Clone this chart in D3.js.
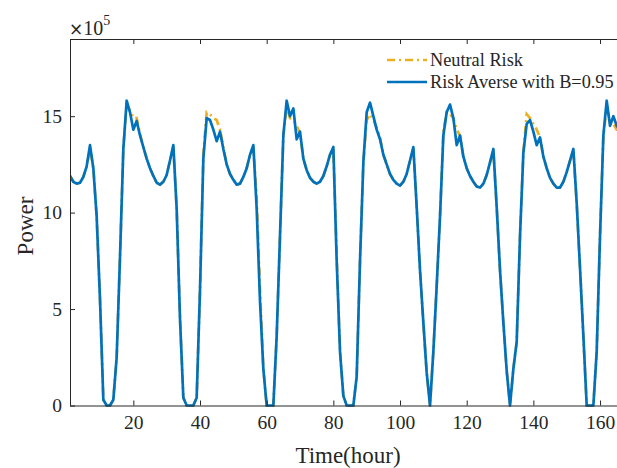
<!DOCTYPE html>
<html><head><meta charset="utf-8">
<script src="https://cdn.jsdelivr.net/npm/d3@7"></script>
<style>html,body{margin:0;padding:0;background:#fff;}svg{display:block;}</style>
</head><body>
<svg id="chart" width="617" height="468"></svg>
<script>
// hours 1..168
const hours = d3.range(1, 169);
const xTicks = [20, 40, 60, 80, 100, 120, 140, 160];
const yTicks = [0, 5, 10, 15];
const seriesNames = ["Neutral Risk", "Risk Averse with B=0.95"];
// values in units of 10^5
const riskAverse = [
 11.9,11.6,11.5,11.55,11.85,12.4,13.5,12.3,9.8,5.5,0.3,0,0,0.3,2.5,7.7,13.3,15.8,15.2,14.3,14.75,14.0,13.4,12.8,
 12.3,11.9,11.55,11.45,11.6,11.95,12.7,13.5,10.2,4.5,0.4,0,0,0,0.4,6.0,12.8,14.9,14.8,14.3,13.7,14.2,13.3,12.5,
 12.0,11.7,11.45,11.5,11.85,12.3,13.0,13.5,10.2,5.4,1.9,0,0,0,3.6,8.8,14.0,15.8,15.0,15.4,13.8,14.2,12.8,12.2,
 11.8,11.6,11.5,11.6,11.9,12.4,13.0,13.4,7.5,2.8,0.5,0,0,0,1.5,7.5,12.6,15.2,15.7,15.0,14.3,13.8,13.0,12.5,
 12.0,11.7,11.5,11.4,11.6,12.0,12.7,13.4,10.3,7.0,4.3,1.7,0,2.8,6.2,9.8,14.0,15.2,15.6,14.9,13.5,14.0,12.9,12.3,
 11.9,11.6,11.35,11.3,11.5,11.95,12.6,13.3,10.3,7.0,4.3,1.8,0,1.9,3.3,8.8,13.1,14.6,14.8,14.2,13.5,13.9,12.9,12.3,
 11.8,11.5,11.3,11.3,11.6,12.1,12.7,13.3,10.5,7.1,3.6,0,0,0,2.8,8.8,14.0,15.8,14.5,15.0,14.5,14.3,13.8,13.3
];
const neutralRisk = [
 11.9,11.6,11.5,11.55,11.85,12.4,13.3,12.3,9.8,5.5,0.3,0,0,0.3,2.5,7.7,13.3,15.6,15.3,14.9,14.9,14.1,13.4,12.8,
 12.3,11.9,11.55,11.45,11.6,11.95,12.7,13.4,10.2,4.5,0.4,0,0,0,0.4,6.0,13.0,15.2,15.1,14.9,14.8,14.3,13.4,12.5,
 12.0,11.7,11.45,11.5,11.85,12.3,13.0,13.4,10.8,6.0,1.9,0,0,0,3.6,8.8,14.0,15.5,14.9,14.8,14.5,14.1,12.8,12.2,
 11.8,11.6,11.5,11.6,11.9,12.4,13.0,13.3,7.8,2.8,0.5,0,0,0,1.5,7.5,12.6,14.8,15.1,14.8,14.4,13.9,13.0,12.5,
 12.0,11.7,11.5,11.4,11.6,12.0,12.7,13.3,10.3,7.0,4.3,1.7,0,2.8,6.2,9.8,14.2,15.2,15.1,14.9,14.3,14.0,12.9,12.3,
 11.9,11.6,11.35,11.3,11.5,11.95,12.6,13.2,10.3,7.0,4.3,1.8,0,1.9,3.3,8.8,13.1,15.1,14.9,14.6,14.3,13.9,12.9,12.3,
 11.8,11.5,11.3,11.3,11.6,12.1,12.7,13.2,10.5,7.1,3.6,0,0,0,2.8,8.8,14.0,15.4,14.8,14.6,14.3,14.3,13.8,13.3
];

const svg = d3.select("#chart");
const pLeft = 70, pTop = 39, pBottom = 405.5, pRight = 626.7;
const x = d3.scaleLinear().domain([1, 168]).range([pLeft, pRight]);
const y = d3.scaleLinear().domain([0, 19]).range([pBottom, pTop]);
const axisColor = "#262626";
const font = "'Liberation Serif','Times New Roman',serif";

svg.append("defs").append("clipPath").attr("id", "clip")
  .append("rect").attr("x", pLeft).attr("y", pTop - 3).attr("width", pRight - pLeft).attr("height", pBottom - pTop + 6);

const g = svg.append("g").attr("clip-path", "url(#clip)");
const line = d3.line().x((d, i) => x(hours[i])).y(d => y(d));
g.append("path").datum(neutralRisk).attr("d", line)
  .attr("fill", "none").attr("stroke", "#EDB120").attr("stroke-width", 2.7)
  .attr("stroke-dasharray", "8,4,2,4");
g.append("path").datum(riskAverse).attr("d", line)
  .attr("fill", "none").attr("stroke", "#0072BD").attr("stroke-width", 2.7)
  .attr("stroke-linejoin", "round");

// axes
const xAxisB = d3.axisBottom(x).tickValues(xTicks).tickSizeInner(-5).tickSizeOuter(0).tickPadding(10);
const xAxisT = d3.axisTop(x).tickValues(xTicks).tickSizeInner(-5).tickSizeOuter(0).tickFormat("");
const yAxisL = d3.axisLeft(y).tickValues(yTicks).tickSizeInner(-5).tickSizeOuter(0).tickPadding(8);

const gb = svg.append("g").attr("transform", `translate(0,${pBottom})`).call(xAxisB);
const gt = svg.append("g").attr("transform", `translate(0,${pTop})`).call(xAxisT);
const gl = svg.append("g").attr("transform", `translate(${pLeft},0)`).call(yAxisL);
[gb, gt, gl].forEach(a => {
  a.select(".domain").attr("stroke", axisColor).attr("stroke-width", 1);
  a.selectAll(".tick line").attr("stroke", axisColor).attr("stroke-width", 1);
  a.selectAll(".tick text").attr("fill", axisColor).style("font-family", font).style("font-size", "19.5px");
});
gl.select(".domain").attr("d", `M0.5,${pTop}V${pBottom}`);
gb.select(".domain").attr("d", `M${pLeft},0.5H${pRight}`);
gt.select(".domain").attr("d", `M${pLeft},0.5H${pRight}`);

// exponent
const ex = svg.append("text").attr("x", 69).attr("y", 35).attr("fill", axisColor)
  .style("font-family", font).style("font-size", "20px");
ex.append("tspan").style("font-family", "'DejaVu Sans',sans-serif").style("font-size", "17px").text("×");
ex.append("tspan").text("10");
ex.append("tspan").attr("dy", -10).style("font-size", "14px").text("5");

// axis titles
svg.append("text").attr("x", 348).attr("y", 463).attr("text-anchor", "middle")
  .attr("fill", axisColor).style("font-family", font).style("font-size", "23px").text("Time(hour)");
svg.append("text").attr("transform", "translate(33,226) rotate(-90)").attr("text-anchor", "middle")
  .attr("fill", axisColor).style("font-family", font).style("font-size", "23px").text("Power");

// legend
const legend = svg.append("g");
const legY = [60, 82];
const styles = [{c: "#EDB120", dash: "8,4,2,4"}, {c: "#0072BD", dash: null}];
seriesNames.forEach((name, i) => {
  const l = legend.append("line").attr("x1", 387).attr("x2", 427).attr("y1", legY[i]).attr("y2", legY[i])
    .attr("stroke", styles[i].c).attr("stroke-width", 2.7);
  if (styles[i].dash) l.attr("stroke-dasharray", styles[i].dash);
  legend.append("text").attr("x", 430).attr("y", legY[i] + 6).attr("fill", axisColor)
    .style("font-family", font).style("font-size", "18.3px").text(name);
});
</script>
</body></html>
